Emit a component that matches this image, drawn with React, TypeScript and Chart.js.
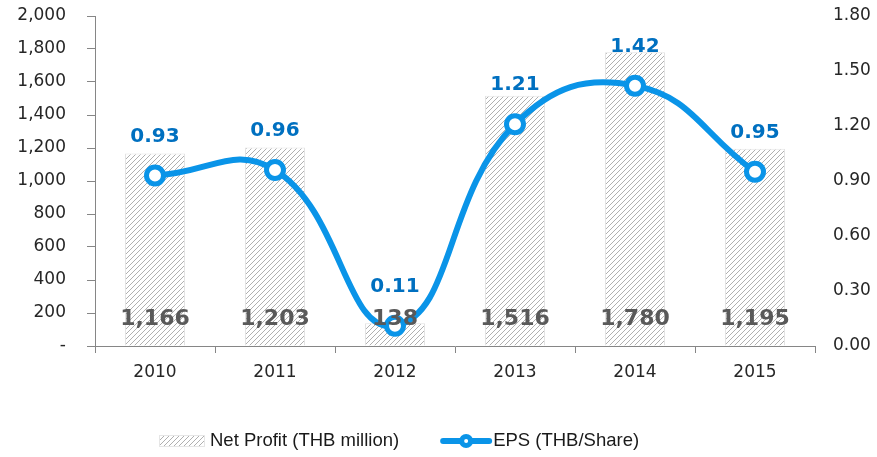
import React, { useEffect, useRef } from 'react';
import { Chart, registerables } from 'chart.js';

Chart.register(...registerables);

const years = ['2010', '2011', '2012', '2013', '2014', '2015'];
const netProfit = [1166, 1203, 138, 1516, 1780, 1195];
const eps = [0.93, 0.96, 0.11, 1.21, 1.42, 0.95];
const netProfitLabel = 'Net Profit (THB million)';
const epsLabel = 'EPS (THB/Share)';

const LINE_COLOR = '#0A94E8';
const EPS_TEXT = '#0070C0';
const NP_TEXT = '#595959';
const AXIS = '#868686';
const TICK_TEXT = '#262626';
const TICK_FONT = { family: '"DejaVu Sans", sans-serif', size: 17 };

function makeHatch(): CanvasPattern | string {
  const c = document.createElement('canvas');
  c.width = 5;
  c.height = 5;
  const x = c.getContext('2d');
  if (!x) return '#ddd';
  x.fillStyle = '#ffffff';
  x.fillRect(0, 0, 5, 5);
  x.strokeStyle = '#b0b0b0';
  x.lineWidth = 1;
  x.beginPath();
  x.moveTo(0, 5);
  x.lineTo(5, 0);
  x.moveTo(-2.5, 2.5);
  x.lineTo(2.5, -2.5);
  x.moveTo(2.5, 7.5);
  x.lineTo(7.5, 2.5);
  x.stroke();
  const p = x.createPattern(c, 'repeat');
  return p || '#ddd';
}

export default function App() {
  const ref = useRef<HTMLCanvasElement | null>(null);

  useEffect(() => {
    if (!ref.current) return;
    const hatch = makeHatch();

    const labelsPlugin = {
      id: 'valueLabels',
      afterDatasetsDraw(chart: any) {
        const ctx = chart.ctx;
        const barMeta = chart.getDatasetMeta(0);
        const lineMeta = chart.getDatasetMeta(1);
        ctx.save();
        ctx.textAlign = 'center';
        ctx.textBaseline = 'middle';
        ctx.font = 'bold 22px "DejaVu Sans", sans-serif';
        ctx.fillStyle = NP_TEXT;
        barMeta.data.forEach((el: any, i: number) => {
          ctx.fillText(netProfit[i].toLocaleString('en-US'), el.x, chart.chartArea.bottom - 27);
        });
        ctx.font = 'bold 20px "DejaVu Sans", sans-serif';
        ctx.fillStyle = EPS_TEXT;
        lineMeta.data.forEach((el: any, i: number) => {
          ctx.fillText(eps[i].toFixed(2), el.x, el.y - 39);
        });
        ctx.restore();
      },
      afterDraw(chart: any) {
        const ctx = chart.ctx;
        ctx.save();
        const cy = 441;
        ctx.font = '18.5px "Liberation Sans", sans-serif';
        ctx.textBaseline = 'middle';
        ctx.textAlign = 'left';
        let x = 159;
        ctx.fillStyle = hatch as any;
        ctx.fillRect(x, cy - 6, 46, 12);
        ctx.strokeStyle = '#e6e6e6';
        ctx.lineWidth = 1;
        ctx.strokeRect(x + 0.5, cy - 5.5, 45, 11);
        x += 51;
        ctx.fillStyle = '#1a1a1a';
        ctx.fillText(netProfitLabel, x, cy);
        x += ctx.measureText(netProfitLabel).width + 41;
        ctx.strokeStyle = LINE_COLOR;
        ctx.lineWidth = 6;
        ctx.lineCap = 'round';
        ctx.beginPath();
        ctx.moveTo(x + 3, cy);
        ctx.lineTo(x + 49, cy);
        ctx.stroke();
        ctx.beginPath();
        ctx.arc(x + 26, cy, 7, 0, Math.PI * 2);
        ctx.fillStyle = LINE_COLOR;
        ctx.fill();
        ctx.beginPath();
        ctx.arc(x + 26, cy, 2, 0, Math.PI * 2);
        ctx.fillStyle = '#ffffff';
        ctx.fill();
        x += 53;
        ctx.fillStyle = '#1a1a1a';
        ctx.fillText(epsLabel, x, cy);
        ctx.restore();
      },
    };

    const chart = new Chart(ref.current, {
      type: 'bar',
      data: {
        labels: years,
        datasets: [
          {
            type: 'bar',
            label: netProfitLabel,
            data: netProfit,
            yAxisID: 'y',
            backgroundColor: hatch as any,
            borderColor: '#e3e3e3',
            borderWidth: 1,
            barPercentage: 0.5,
            categoryPercentage: 1,
            order: 2,
          },
          {
            type: 'line',
            label: epsLabel,
            data: eps,
            yAxisID: 'y1',
            borderColor: LINE_COLOR,
            borderWidth: 6,
            tension: 0.45,
            pointRadius: 8.5,
            pointHoverRadius: 8.5,
            pointBorderWidth: 5,
            pointBackgroundColor: '#ffffff',
            pointBorderColor: LINE_COLOR,
            clip: false as any,
            order: 1,
          } as any,
        ],
      },
      options: {
        animation: false,
        responsive: false,
        maintainAspectRatio: false,
        layout: { padding: { top: 16, left: 0, right: 0, bottom: 0 } },
        plugins: {
          legend: { display: false },
          tooltip: { enabled: false },
          title: { display: false },
        },
        scales: {
          x: {
            grid: {
              offset: true,
              drawOnChartArea: false,
              tickLength: 7,
              color: AXIS,
            },
            border: { color: AXIS },
            ticks: { font: TICK_FONT, color: TICK_TEXT, padding: 9 },
            afterFit: (s: any) => {
              s.height = 111;
              s.paddingLeft = 0;
              s.paddingRight = 0;
            },
          },
          y: {
            position: 'left',
            min: 0,
            max: 2000,
            ticks: {
              stepSize: 200,
              font: TICK_FONT,
              color: TICK_TEXT,
              padding: 21,
              callback: (v: any) => (Number(v) === 0 ? '-' : Number(v).toLocaleString('en-US')),
            },
            grid: { drawOnChartArea: false, tickLength: 8, color: AXIS },
            border: { color: AXIS },
            afterFit: (s: any) => {
              s.width = 95;
              s.paddingTop = 0;
              s.paddingBottom = 0;
            },
          },
          y1: {
            position: 'right',
            min: 0,
            max: 1.8,
            ticks: {
              stepSize: 0.3,
              font: TICK_FONT,
              color: TICK_TEXT,
              padding: 18,
              callback: (v: any) => Number(v).toFixed(2),
            },
            grid: { display: false, drawTicks: false },
            border: { display: false },
            afterFit: (s: any) => {
              s.width = 62;
              s.paddingTop = 0;
              s.paddingBottom = 0;
            },
          },
        },
      },
      plugins: [labelsPlugin],
    });

    return () => chart.destroy();
  }, []);

  return (
    <div style={{ position: 'absolute', left: 0, top: 0, width: 877, height: 457, background: '#fff' }}>
      <canvas ref={ref} width={877} height={457} style={{ width: 877, height: 457 }} />
    </div>
  );
}
